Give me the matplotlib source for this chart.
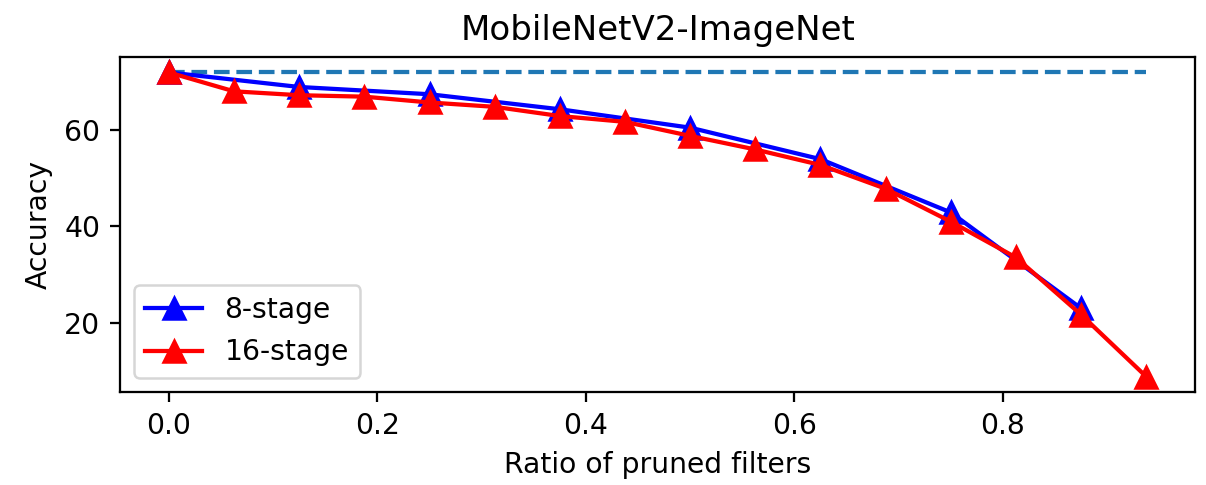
import matplotlib
matplotlib.use("Agg")
import matplotlib.pyplot as plt

# Data
x8 = [0.0, 0.125, 0.25, 0.375, 0.5, 0.625, 0.75, 0.875]
acc8 = [71.8, 68.8, 67.3, 64.2, 60.4, 53.9, 42.9, 23.1]
x16 = [0.0, 0.0625, 0.125, 0.1875, 0.25, 0.3125, 0.375, 0.4375,
       0.5, 0.5625, 0.625, 0.6875, 0.75, 0.8125, 0.875, 0.9375]
acc16 = [71.8, 67.9, 67.1, 66.8, 65.6, 64.7, 62.8, 61.6,
         58.7, 55.9, 52.7, 47.8, 41.0, 33.6, 21.8, 9.0]
baseline_x = [0.0, 0.9375]
baseline_y = [71.8, 71.8]

s = 1.13
plt.rcParams.update({
    'font.size': 10 * s,
    'axes.linewidth': 0.8 * s,
    'xtick.major.width': 0.8 * s,
    'ytick.major.width': 0.8 * s,
    'xtick.major.size': 3.5 * s,
    'ytick.major.size': 3.5 * s,
    'xtick.major.pad': 3.5 * s,
    'ytick.major.pad': 3.5 * s,
    'axes.titlepad': 6 * s,
    'axes.labelpad': 4 * s,
})

fig = plt.figure(figsize=(6.7, 485 / 180), dpi=180)
ax = fig.add_subplot(111)
fig.subplots_adjust(left=0.0995, right=0.991, top=0.882, bottom=0.192)

ax.plot(baseline_x, baseline_y, '--', color='#1f77b4', lw=1.5 * s)
ax.plot(x8, acc8, '-^', color='blue', lw=1.5 * s, markersize=8.5, label='8-stage')
ax.plot(x16, acc16, '-^', color='red', lw=1.5 * s, markersize=8.5, label='16-stage')

ax.set_title('MobileNetV2-ImageNet', fontsize=13.6)
ax.set_xlabel('Ratio of pruned filters')
ax.set_ylabel('Accuracy')
ax.set_xticks([0.0, 0.2, 0.4, 0.6, 0.8])
ax.set_yticks([20, 40, 60])
ax.legend(loc='lower left')

fig.savefig('out.png', dpi=180)
